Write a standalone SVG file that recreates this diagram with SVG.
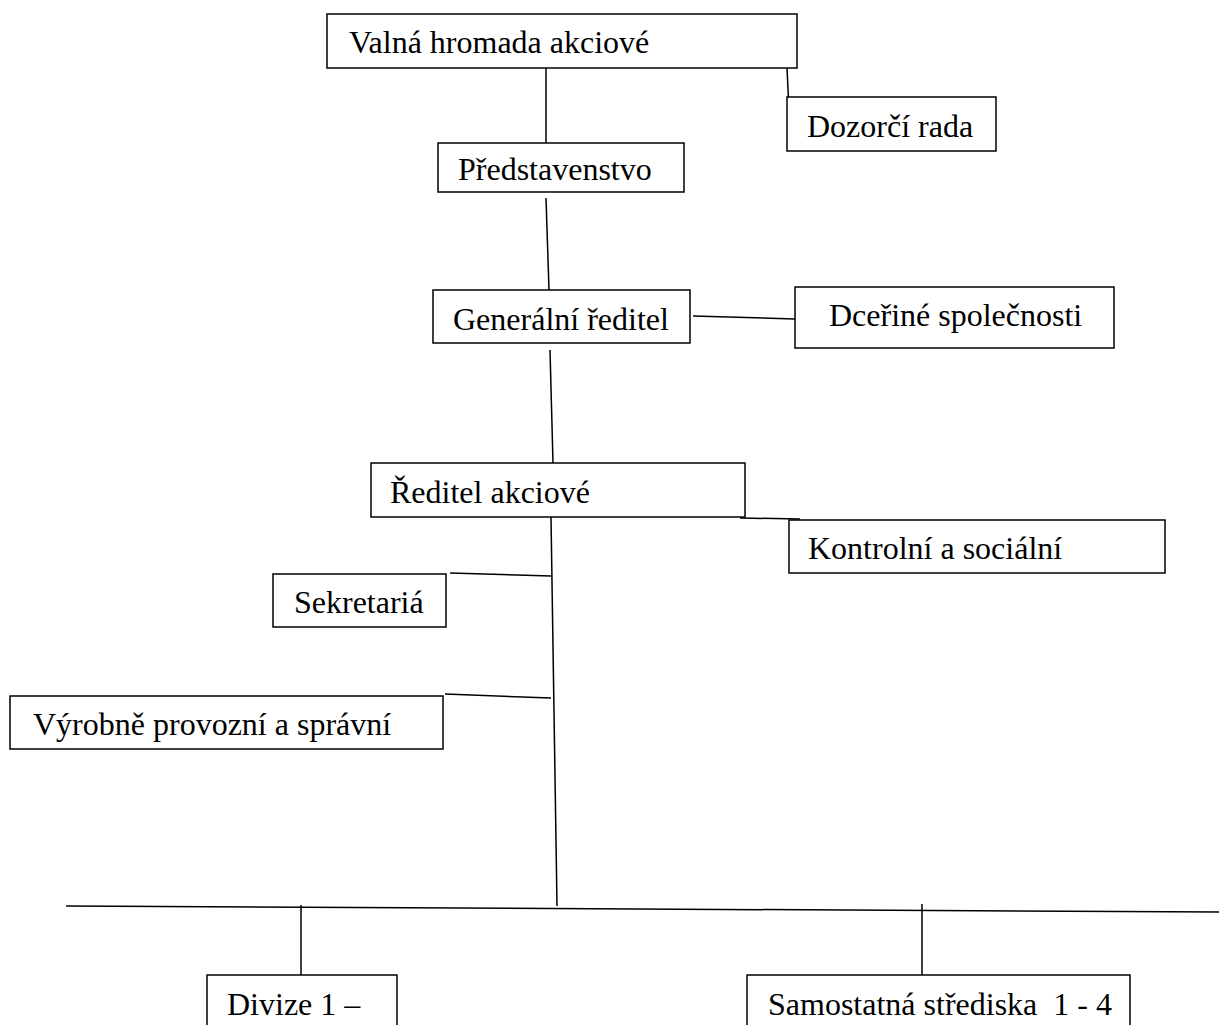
<svg xmlns="http://www.w3.org/2000/svg" width="1219" height="1025" viewBox="0 0 1219 1025">
<style>
.box{fill:#fff;stroke:#000;stroke-width:1.5}
.lbl{font-family:"Liberation Serif","Times New Roman",serif;font-size:32px;fill:#000}
.c{stroke:#000;stroke-width:1.5;fill:none}
</style>
<rect width="1219" height="1025" fill="#fff"/>
<g id="connectors">
<line class="c" x1="546" y1="68" x2="546" y2="143"/>
<line class="c" x1="787" y1="68" x2="789" y2="110"/>
<line class="c" x1="546" y1="198" x2="549" y2="290"/>
<line class="c" x1="693" y1="316" x2="795" y2="319"/>
<line class="c" x1="550" y1="350" x2="553" y2="463"/>
<line class="c" x1="740" y1="518" x2="800" y2="519"/>
<line class="c" x1="551" y1="517" x2="557" y2="906"/>
<line class="c" x1="450" y1="573" x2="551" y2="576"/>
<line class="c" x1="445" y1="694" x2="551" y2="698"/>
<line class="c" x1="66" y1="906" x2="1219" y2="912"/>
<line class="c" x1="301" y1="905" x2="301" y2="975"/>
<line class="c" x1="922" y1="904" x2="922" y2="975"/>
</g>
<g id="n1"><rect class="box" x="327" y="14" width="470" height="54"/><text class="lbl" x="349" y="53">Valná hromada akciové</text></g>
<g id="n2"><rect class="box" x="787" y="97" width="209" height="54"/><text class="lbl" x="807" y="137">Dozorčí rada</text></g>
<g id="n3"><rect class="box" x="438" y="143" width="246" height="49"/><text class="lbl" x="458" y="180">Představenstvo</text></g>
<g id="n4"><rect class="box" x="433" y="290" width="257" height="53"/><text class="lbl" x="453" y="330">Generální ředitel</text></g>
<g id="n5"><rect class="box" x="795" y="287" width="319" height="61"/><text class="lbl" x="829" y="326">Dceřiné společnosti</text></g>
<g id="n6"><rect class="box" x="371" y="463" width="374" height="54"/><text class="lbl" x="390" y="503">Ředitel akciové</text></g>
<g id="n7"><rect class="box" x="789" y="520" width="376" height="53"/><text class="lbl" x="808" y="559">Kontrolní a sociální</text></g>
<g id="n8"><rect class="box" x="273" y="574" width="173" height="53"/><text class="lbl" x="294" y="613">Sekretariá</text></g>
<g id="n9"><rect class="box" x="10" y="696" width="433" height="53"/><text class="lbl" x="33" y="735">Výrobně provozní a správní</text></g>
<g id="n10"><rect class="box" x="207" y="975" width="190" height="60"/><text class="lbl" x="227" y="1015">Divize 1 –</text></g>
<g id="n11"><rect class="box" x="747" y="975" width="383" height="60"/><text class="lbl" x="768" y="1015" xml:space="preserve">Samostatná střediska  1 - 4</text></g>
</svg>
